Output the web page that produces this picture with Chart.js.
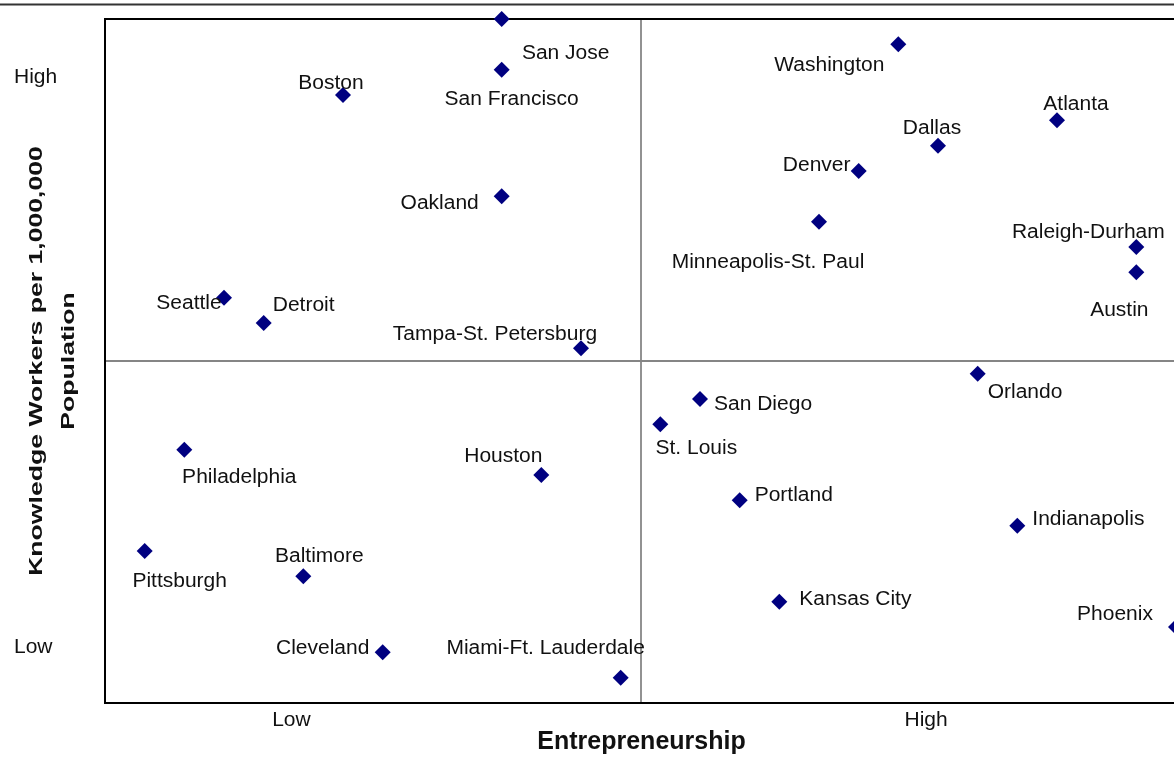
<!DOCTYPE html>
<html>
<head>
<meta charset="utf-8">
<script src="https://cdn.jsdelivr.net/npm/chart.js@4.4.0/dist/chart.umd.min.js"></script>
<style>
  html, body { margin:0; padding:0; background:#fff; overflow:hidden; }
  #wrap { position:relative; width:1190px; height:757px; }
</style>
</head>
<body>
<div id="wrap"><canvas id="quadChart"></canvas></div>
<script>
// rank on each axis, 1 = lowest
const cities = ['San Jose','San Francisco','Oakland','Boston','Seattle','Detroit','Tampa-St. Petersburg',
  'Washington','Atlanta','Dallas','Denver','Minneapolis-St. Paul','Raleigh-Durham','Austin',
  'Orlando','San Diego','St. Louis','Houston','Philadelphia','Portland','Indianapolis',
  'Pittsburgh','Baltimore','Kansas City','Phoenix','Cleveland','Miami-Ft. Lauderdale'];
const entrepreneurship = [10,10,10,6,3,4,12, 20,24,21,19,18,26,26, 22,15,14,11,2,16,23, 1,5,17,27,7,13];
const knowledgeWorkers = [27,25,20,24,16,15,14, 26,23,22,21,19,18,17, 13,12,11,9,10,8,7, 6,5,4,3,2,1];

const axisMin = 0, axisMax = 27, midValue = 13.5;
const xTickValues = [4.7, 20.7];
const xTickLabels = ['Low','High'];
const yTickValues = [2.2, 24.72];
const yTickLabels = ['Low','High'];

// label placement relative to marker, px: [dx, dy, align]
const labelOffset = {
  'San Jose':[64,32,'center'], 'San Francisco':[10,28,'center'], 'Oakland':[-62,5,'center'],
  'Boston':[-12,-14,'center'], 'Seattle':[-35,4,'center'], 'Detroit':[40,-20,'center'],
  'Tampa-St. Petersburg':[-86,-16,'center'],
  'Washington':[-69,19,'center'], 'Atlanta':[19,-18,'center'], 'Dallas':[-6,-19,'center'],
  'Denver':[-42,-8,'center'], 'Minneapolis-St. Paul':[-51,39,'center'],
  'Raleigh-Durham':[-48,-17,'center'], 'Austin':[-17,36,'center'],
  'Orlando':[10,17,'left'], 'San Diego':[14,3,'left'], 'St. Louis':[36,22,'center'],
  'Houston':[-38,-21,'center'], 'Philadelphia':[55,26,'center'], 'Portland':[15,-7,'left'],
  'Indianapolis':[15,-8,'left'], 'Pittsburgh':[35,28,'center'], 'Baltimore':[16,-22,'center'],
  'Kansas City':[20,-4,'left'], 'Phoenix':[-61,-15,'center'], 'Cleveland':[-60,-6,'center'],
  'Miami-Ft. Lauderdale':[-75,-31,'center']
};

const FONT = "'Liberation Sans', Arial, sans-serif";
const STRETCH = 1.05;

const quadrants = {
  id:'quadrants',
  beforeDatasetsDraw(chart){
    const {ctx, chartArea:a, scales:{x, y}} = chart;
    ctx.save();
    // page rule at the very top
    ctx.strokeStyle = '#333'; ctx.lineWidth = 2;
    ctx.beginPath(); ctx.moveTo(0, 4.5); ctx.lineTo(chart.width, 4.5); ctx.stroke();
    // quadrant dividers
    const mx = Math.round(x.getPixelForValue(midValue));
    const my = Math.round(y.getPixelForValue(midValue));
    ctx.strokeStyle = '#6e6e6e'; ctx.lineWidth = 1.5;
    ctx.beginPath(); ctx.moveTo(mx, a.top); ctx.lineTo(mx, a.bottom); ctx.stroke();
    ctx.strokeStyle = '#858585'; ctx.lineWidth = 2;
    ctx.beginPath(); ctx.moveTo(a.left, my); ctx.lineTo(a.right, my); ctx.stroke();
    // frame
    ctx.strokeStyle = '#000'; ctx.lineWidth = 2;
    ctx.strokeRect(a.left, a.top, a.right - a.left, a.bottom - a.top);
    ctx.restore();
  },
  afterDatasetsDraw(chart){
    const {ctx} = chart;
    const meta = chart.getDatasetMeta(0);
    ctx.save();
    ctx.font = '20px ' + FONT;
    ctx.fillStyle = '#111';
    ctx.textBaseline = 'middle';
    meta.data.forEach((pt, i) => {
      const [dx, dy, align] = labelOffset[cities[i]] || [0, -20, 'center'];
      ctx.save();
      ctx.translate(pt.x + dx, pt.y + dy + 2);
      ctx.scale(STRETCH, 1);
      ctx.textAlign = align;
      ctx.fillText(cities[i], 0, 0);
      ctx.restore();
    });
    ctx.restore();
  },
  afterDraw(chart){
    const {ctx, chartArea:a} = chart;
    ctx.save();
    ctx.fillStyle = '#111';
    ctx.textAlign = 'center'; ctx.textBaseline = 'middle';
    ctx.font = 'bold 25px ' + FONT;
    ctx.fillText('Entrepreneurship', (a.left + a.right) / 2 + 1, 742);
    // y title, stretched along its length like the original
    ctx.translate(53, 361);
    ctx.rotate(-Math.PI / 2);
    ctx.scale(1.4, 1);
    ctx.font = 'bold 19px ' + FONT;
    ctx.fillText('Knowledge Workers per 1,000,000', 0, -16);
    ctx.fillText('Population', 0, 16);
    ctx.restore();
  }
};

new Chart(document.getElementById('quadChart').getContext('2d'), {
  type:'scatter',
  data:{
    labels: cities,
    datasets:[{
      data: cities.map((c, i) => ({x: entrepreneurship[i], y: knowledgeWorkers[i]})),
      pointStyle:'rectRot', pointRadius:8, pointHoverRadius:8,
      backgroundColor:'#000080', borderColor:'#000080', borderWidth:0,
      clip:false
    }]
  },
  options:{
    responsive:true, maintainAspectRatio:false, animation:false,
    layout:{padding:{top:19, left:14, right:14, bottom:0}},
    plugins:{legend:{display:false}, tooltip:{enabled:false}},
    scales:{
      x:{
        type:'linear', min:axisMin, max:axisMax,
        grid:{display:false, drawTicks:false}, border:{display:false},
        afterBuildTicks: s => { s.ticks = xTickValues.map(v => ({value:v})); },
        afterFit: s => { s.height = 54; },
        ticks:{font:{family:FONT, size:21}, color:'#111', padding:5, maxRotation:0, autoSkip:false,
          callback:(v, i) => xTickLabels[i]}
      },
      y:{
        type:'linear', min:axisMin, max:axisMax,
        grid:{display:false, drawTicks:false}, border:{display:false},
        afterBuildTicks: s => { s.ticks = yTickValues.map(v => ({value:v})); },
        afterFit: s => { s.width = 91; },
        ticks:{font:{family:FONT, size:21}, color:'#111', padding:0, crossAlign:'far', autoSkip:false,
          callback:(v, i) => yTickLabels[i]}
      }
    }
  },
  plugins:[quadrants]
});
</script>
</body>
</html>
